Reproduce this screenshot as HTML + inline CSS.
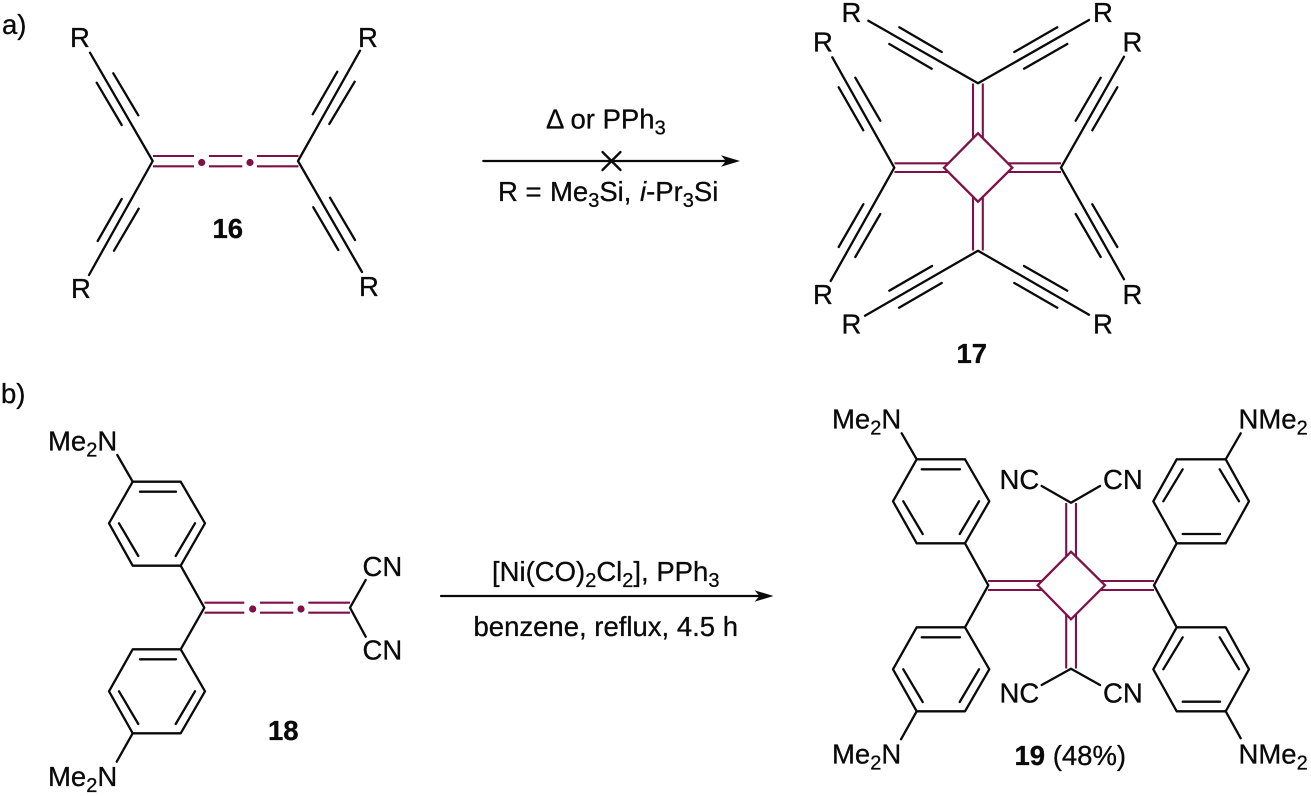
<!DOCTYPE html>
<html>
<head>
<meta charset="utf-8">
<title>Reaction scheme</title>
<style>
html,body{margin:0;padding:0;background:#fff;}
svg{display:block;}
text{font-family:"Liberation Sans",Arial,sans-serif;font-size:27.5px;fill:#0a0a0a;stroke:#0a0a0a;stroke-width:.3px;}
.b{font-weight:bold;}
.s{font-size:20px;}
.k{stroke:#0a0a0a;stroke-width:2.3;fill:none;stroke-linecap:round;stroke-linejoin:round;}
.m{stroke:#7f1048;stroke-width:2.1;fill:none;stroke-linecap:butt;stroke-linejoin:miter;}
.d{fill:#7f1048;}
</style>
</head>
<body>
<svg width="1311" height="796" viewBox="0 0 1311 796" xmlns="http://www.w3.org/2000/svg">
<rect width="1311" height="796" fill="#fff"/>

<!-- a) label -->
<text x="2" y="34">a)</text>
<text x="1" y="403">b)</text>

<!-- 16 -->
<path class="k" d="M90 52.7L152.7 161L89 275M360 50.7L298 161L362 272
M96.7 82.7L121.7 125M113.3 73.3L138.3 115.3
M337.3 71.7L312.7 114.3M354.7 81.7L329.3 124
M121.7 199L97.7 241M138.7 208.7L114 250.7
M330 197.7L355 240M313.3 207.3L338.3 250"/>
<path class="m" d="M153 156H194M153 166.3H194M209 156H242.3M209 166.3H242.3M257 156H298.5M257 166.3H298.5"/>
<circle class="d" cx="201.7" cy="162.5" r="3.6"/>
<circle class="d" cx="250" cy="162.5" r="3.6"/>
<text x="70" y="47">R</text>
<text x="358" y="47">R</text>
<text x="71" y="298">R</text>
<text x="359" y="296">R</text>
<text class="b" x="212.5" y="238">16</text>

<!-- arrow a -->
<path class="k" style="stroke-width:2.2" d="M483.3 161H730"/>
<path d="M740 161L721 155.3L726 161L721 166.7Z" fill="#0a0a0a"/>
<path class="k" d="M602.5 152L620.5 170M620.5 152L602.5 170"/>
<text x="546" y="128.3">Δ or PPh<tspan class="s" dy="6">3</tspan></text>
<text y="201"><tspan x="498">R =</tspan><tspan x="550">Me</tspan><tspan class="s" dy="6">3</tspan><tspan dy="-6">Si,</tspan><tspan x="640" font-style="italic">i</tspan><tspan>-Pr</tspan><tspan class="s" dy="6">3</tspan><tspan dy="-6">Si</tspan></text>

<!-- 17 -->
<path class="k" d="M868.3 20.7L978 83.3L1089 20
M899.3 27.3L941.7 52M889.3 44L931.7 68.7
M1057.3 27.3L1014.3 52M1067.3 44L1024 68.7
M865 315.7L978 250.7L1089 314.7
M932 266L889.3 290.7M941.7 283L899 307.7
M1024 266L1067.3 290.7M1014.3 283L1057.3 307.7
M832.3 57.3L894.3 167.7L830.7 281
M855.3 77.7L880.3 120.7M838.7 87.3L863.3 130.3
M863.3 204.3L838.7 247M880.3 214L855.3 257
M1124 56.7L1061 167.7L1124 279.3
M1100.7 77.7L1075.7 120.7M1117.3 87.3L1092.3 130.3
M1092.3 204.3L1117.3 247M1075.7 214L1100.7 257"/>
<path class="m" d="M973 83.5V138.3M982.8 83.5V138.3M973 197V250.5M982.8 197V250.5
M894.5 163.3H948.4M894.5 172H948.4M1007.9 163.3H1061M1007.9 172H1061"/>
<path class="m" style="stroke-width:2.3" d="M978 133.3L1012.3 167.7L978 201.7L944 167.7Z"/>
<text x="841.5" y="22">R</text>
<text x="1093" y="22">R</text>
<text x="813" y="51.7">R</text>
<text x="1122.5" y="51.7">R</text>
<text x="813" y="304">R</text>
<text x="1122.5" y="304">R</text>
<text x="841.5" y="333.3">R</text>
<text x="1093" y="333.3">R</text>
<text class="b" x="956.5" y="363">17</text>

<!-- 18 -->
<path class="k" d="M132.7 481.7H180.7L205 523.3L180.7 565.7H132.7L109 523.3Z
M140 491.7H176M195 523.3L175.7 556M119 523.3L138.3 556
M117.3 455L132.7 481.7M180.7 565.7L204.3 607.7L180.7 649.3
M132.7 649.3H180.7L205 691.3L180.7 733.3H132.7L109 691.3Z
M140 659.3H176M119 691.3L138.3 724M195 691.3L175.7 724
M132.7 733.3L116.7 761.7
M365.7 580L350 607.7L365.7 636.7"/>
<path class="m" d="M204.5 602.7H244.3M204.5 612.7H244.3M260 602.7H293.3M260 612.7H293.3M308.3 602.7H350M308.3 612.7H350"/>
<circle class="d" cx="252.7" cy="609" r="3.6"/>
<circle class="d" cx="301" cy="609" r="3.6"/>
<text x="48" y="450.7">Me<tspan class="s" dy="6">2</tspan><tspan dy="-6">N</tspan></text>
<text x="48" y="786">Me<tspan class="s" dy="6">2</tspan><tspan dy="-6">N</tspan></text>
<text x="362.5" y="576">CN</text>
<text x="362.5" y="659.3">CN</text>
<text class="b" x="268" y="740">18</text>

<!-- arrow b -->
<path class="k" style="stroke-width:2.2" d="M441 596H764"/>
<path d="M773.5 596L754.5 590.3L759.5 596L754.5 601.7Z" fill="#0a0a0a"/>
<text x="492" y="581">[Ni(CO)<tspan class="s" dy="6">2</tspan><tspan dy="-6">Cl</tspan><tspan class="s" dy="6">2</tspan><tspan dy="-6">], PPh</tspan><tspan class="s" dy="6">3</tspan></text>
<text x="473.5" y="636">benzene, reflux, 4.5 h</text>

<!-- 19 -->
<path class="k" d="M916.7 459.3H965L989.3 501.3L965 543.3H916.7L893 501.3Z
M921.7 469.3H960M979 501.3L959.7 534M903.3 501.3L922.7 534
M901.7 433.3L916.7 459.3M965 543.3L988.3 585.3L965 627.3
M916.7 627.3H965L989.3 669.3L965 711.3H916.7L893 669.3Z
M921.7 637.3H960M903.3 669.3L922.7 702M979 669.3L959.7 702
M916.7 711.3L901 739.3
M1176.7 459.3H1225.7L1249 501.3L1225.7 543.3H1176.7L1153.3 501.3Z
M1182.7 534H1220M1163.3 501.3L1182.7 469.3M1239 501.3L1219.7 469.3
M1225.7 459.3L1240.7 433.3M1176.7 543.3L1154 585.3L1176.7 627.3
M1176.7 627.3H1225.7L1249 669.3L1225.7 711.3H1176.7L1153.3 669.3Z
M1182.7 701.7H1220M1163.3 669.3L1182.7 637.3M1239 669.3L1219.7 637.3
M1225.7 711.3L1240.7 738.3
M1041.7 486L1071 502.7L1100 486
M1041.7 685L1071 668.7L1100 685"/>
<path class="m" d="M1066.2 503V556.5M1076 503V556.5M1066.2 614.5V668.5M1076 614.5V668.5
M988 581H1042M988 590H1042M1100.5 581H1154M1100.5 590H1154"/>
<path class="m" style="stroke-width:2.3" d="M1071 551.7L1105 585.3L1071 619.3L1037.7 585.3Z"/>
<text x="832" y="428.3">Me<tspan class="s" dy="6">2</tspan><tspan dy="-6">N</tspan></text>
<text x="1238.5" y="428.3">NMe<tspan class="s" dy="6">2</tspan></text>
<text x="832" y="763.3">Me<tspan class="s" dy="6">2</tspan><tspan dy="-6">N</tspan></text>
<text x="1238.5" y="763.3">NMe<tspan class="s" dy="6">2</tspan></text>
<text x="999.5" y="489">NC</text>
<text x="1103" y="489">CN</text>
<text x="999.5" y="702.3">NC</text>
<text x="1103" y="702.3">CN</text>
<text x="1014.5" y="765"><tspan class="b">19</tspan> (48%)</text>
</svg>
</body>
</html>
